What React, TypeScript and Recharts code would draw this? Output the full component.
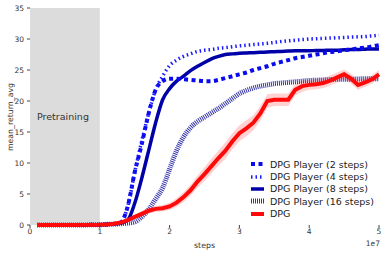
import { ComposedChart, Line, Area, XAxis, YAxis, ReferenceArea } from 'recharts';

// x positions in units of 1e7 steps
const steps = [0.1, 0.5, 1.0, 1.1, 1.2, 1.3, 1.4, 1.5, 1.6, 1.7, 1.8, 1.9, 2.0, 2.1, 2.2, 2.3, 2.4, 2.5, 2.6, 2.7, 2.8, 2.9, 3.0, 3.1, 3.2, 3.3, 3.4, 3.5, 3.6, 3.7, 3.8, 3.9, 4.0, 4.1, 4.2, 4.3, 4.4, 4.5, 4.6, 4.7, 4.8, 4.9, 5.0];

const player2 = [0, 0, 0.05, 0.1, 0.15, 0.4, 3, 8.5, 13, 18, 21.8, 23.2, 23.6, 23.6, 23.5, 23.4, 23.3, 23.2, 23.2, 23.4, 23.7, 24, 24.3, 24.6, 25, 25.3, 25.6, 26, 26.3, 26.6, 26.9, 27.1, 27.3, 27.5, 27.7, 27.9, 28, 28.2, 28.3, 28.5, 28.6, 28.8, 29.0];
const player4 = [0, 0, 0.05, 0.1, 0.15, 0.4, 3, 8.5, 13.5, 18, 21.8, 24, 25.7, 26.6, 27.2, 27.6, 28.0, 28.2, 28.3, 28.5, 28.6, 28.75, 28.9, 29, 29.1, 29.2, 29.3, 29.45, 29.6, 29.7, 29.8, 29.9, 30, 30.05, 30.1, 30.15, 30.2, 30.25, 30.3, 30.35, 30.4, 30.5, 30.6];
const player8 = [0, 0, 0.05, 0.1, 0.15, 0.3, 0.8, 3.5, 7.5, 12, 16.5, 20.2, 22, 23.2, 24, 24.9, 25.6, 26.2, 26.8, 27.2, 27.5, 27.6, 27.7, 27.75, 27.8, 27.85, 27.9, 27.95, 28.0, 28.05, 28.1, 28.1, 28.1, 28.15, 28.15, 28.2, 28.2, 28.25, 28.3, 28.3, 28.35, 28.4, 28.4];
const player16 = [0, 0, 0.05, 0.1, 0.15, 0.2, 0.3, 0.5, 1.3, 2.5, 4.2, 6, 9, 12, 14.2, 15.7, 16.7, 17.4, 18.1, 18.8, 19.6, 20.4, 21.2, 21.7, 22.1, 22.4, 22.6, 22.8, 22.9, 23, 23.1, 23.2, 23.3, 23.35, 23.4, 23.45, 23.5, 23.5, 23.5, 23.55, 23.6, 23.6, 23.6];
const dpg = [0, 0, 0.05, 0.1, 0.2, 0.4, 0.8, 1.3, 1.8, 2.3, 2.6, 2.7, 3.0, 3.6, 4.5, 5.6, 7.0, 8.2, 9.5, 10.8, 12.0, 13.5, 14.8, 15.6, 16.5, 18.0, 20.0, 20.2, 20.2, 20.2, 21.8, 22.4, 22.6, 22.7, 22.9, 23.3, 23.8, 24.3, 23.6, 22.6, 23.0, 23.5, 24.3];
const dpgSpread = [0, 0, 0, 0, 0.05, 0.1, 0.2, 0.3, 0.4, 0.5, 0.5, 0.5, 0.6, 0.7, 0.8, 0.9, 1.0, 1.1, 1.2, 1.2, 1.3, 1.3, 1.3, 1.3, 1.2, 1.2, 1.1, 1.0, 1.0, 1.0, 0.9, 0.9, 0.8, 0.8, 0.8, 0.8, 0.8, 0.8, 0.8, 0.8, 0.7, 0.7, 0.7];

const xTicks = [0, 1, 2, 3, 4, 5];
const yTicks = [0, 5, 10, 15, 20, 25, 30, 35];

const data = steps.map((s, i) => ({
    step: s,
    p2: player2[i],
    p4: player4[i],
    p8: player8[i],
    p16: player16[i],
    dpg: dpg[i],
    band: [dpg[i] - dpgSpread[i], dpg[i] + dpgSpread[i]],
}));

const series = [
    { key: 'p2', name: 'DPG Player (2 steps)', color: '#0a0af0', width: 4, dash: '4 3.5' },
    { key: 'p4', name: 'DPG Player (4 steps)', color: '#1a1aff', width: 3.5, dash: '1.5 3' },
    { key: 'p8', name: 'DPG Player (8 steps)', color: '#0000a8', width: 3.5, dash: undefined },
    { key: 'p16', name: 'DPG Player (16 steps)', color: '#3535a8', width: 5, dash: '1 1' },
    { key: 'dpg', name: 'DPG', color: '#ff0a0a', width: 4, dash: undefined },
];

const font = 'DejaVu Sans, sans-serif';
const tickStyle = { fontSize: 7.5, fill: '#333', fontFamily: font };

const LegendBox = () => (
    <div style={{ position: 'absolute', left: 249, top: 158, fontFamily: font, fontSize: 9.5, color: '#222' }}>
        {series.map((s) => (
            <div key={s.key} style={{ display: 'flex', alignItems: 'center', height: 12.4 }}>
                <svg width={17} height={10} style={{ marginRight: 4 }}>
                    <line x1={2} y1={5} x2={15} y2={5} stroke={s.color} strokeWidth={s.width} strokeDasharray={s.dash} />
                </svg>
                <span>{s.name}</span>
            </div>
        ))}
    </div>
);

const App = () => {
    return (
        <div style={{ position: 'absolute', left: 0, top: 0, width: 386, height: 254, background: '#fff' }}>
            <ComposedChart width={386} height={254} data={data} margin={{ top: 8, right: 0, left: 0, bottom: 0 }}>
                <XAxis
                    dataKey="step"
                    type="number"
                    domain={[0, 5]}
                    ticks={xTicks}
                    axisLine={false}
                    tickSize={3}
                    tickMargin={1}
                    tickLine={{ stroke: '#444' }}
                    tick={tickStyle}
                    height={29}
                    label={{ value: 'steps', position: 'insideBottom', offset: 6, fontSize: 7.8, fill: '#333', fontFamily: font }}
                />
                <XAxis
                    xAxisId="top"
                    orientation="top"
                    dataKey="step"
                    type="number"
                    domain={[0, 5]}
                    ticks={xTicks}
                    axisLine={false}
                    tickSize={3}
                    tickLine={{ stroke: '#444' }}
                    tick={() => <g />}
                    height={0}
                />
                <YAxis
                    type="number"
                    domain={[0, 35]}
                    ticks={yTicks}
                    axisLine={false}
                    tickSize={3}
                    tickMargin={3}
                    tickLine={{ stroke: '#444' }}
                    tick={tickStyle}
                    width={30}
                    label={{
                        content: () => (
                            <text x={11} y={117} transform="rotate(-90 11 117)" textAnchor="middle" dominantBaseline="middle" fontSize={7.8} fill="#333" fontFamily={font}>
                                mean_return_avg
                            </text>
                        ),
                    }}
                />
                <YAxis
                    yAxisId="right"
                    orientation="right"
                    type="number"
                    domain={[0, 35]}
                    ticks={yTicks}
                    axisLine={false}
                    tickSize={3}
                    tickLine={{ stroke: '#444' }}
                    tick={() => <g />}
                    width={7}
                />
                <ReferenceArea
                    x1={0}
                    x2={1}
                    y1={0}
                    y2={35}
                    fill="#dcdcdc"
                    fillOpacity={1}
                    stroke="none"
                    label={{ value: 'Pretraining', position: 'insideLeft', offset: 7, fontSize: 9.5, fill: '#333', fontFamily: font }}
                />
                <Line dataKey="p16" type="monotone" stroke="#3535a8" strokeWidth={5} strokeDasharray="1 1" dot={false} isAnimationActive={false} />
                <Line dataKey="p8" type="monotone" stroke="#0000a8" strokeWidth={3.5} dot={false} isAnimationActive={false} />
                <Line dataKey="p2" type="monotone" stroke="#0a0af0" strokeWidth={4} strokeDasharray="4 3.5" dot={false} isAnimationActive={false} />
                <Line dataKey="p4" type="monotone" stroke="#1a1aff" strokeWidth={3.5} strokeDasharray="1.5 3" dot={false} isAnimationActive={false} />
                <Area dataKey="band" type="linear" stroke="none" fill="#ff9999" fillOpacity={0.45} isAnimationActive={false} />
                <Line dataKey="dpg" type="linear" stroke="#ff0a0a" strokeWidth={4} dot={false} isAnimationActive={false} />
                <text x={380} y={246} textAnchor="end" fontSize={7.5} fill="#333" fontFamily={font}>1e7</text>
            </ComposedChart>
            <LegendBox />
        </div>
    );
};

export default App;
